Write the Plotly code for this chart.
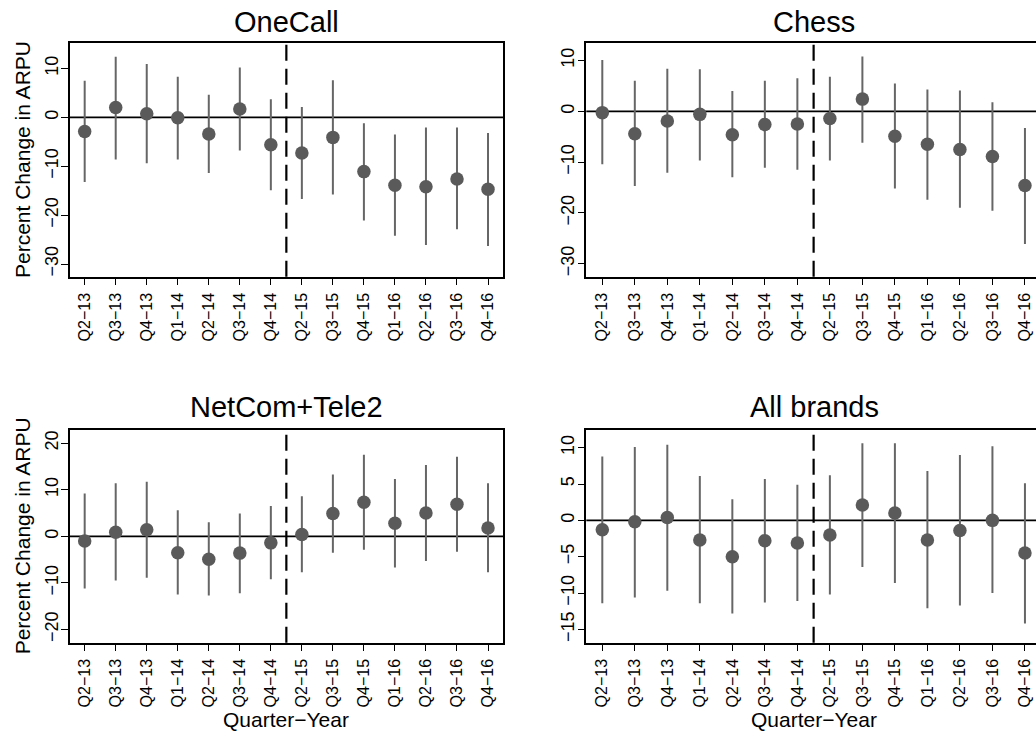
import plotly.graph_objects as go

W, H = 1036, 731

quarters = ["Q2\u221213", "Q3\u221213", "Q4\u221213", "Q1\u221214", "Q2\u221214", "Q3\u221214", "Q4\u221214",
            "Q2\u221215", "Q3\u221215", "Q4\u221215", "Q1\u221216", "Q2\u221216", "Q3\u221216", "Q4\u221216"]
positions = list(range(1, 15))

titles = ["OneCall", "Chess", "NetCom+Tele2", "All brands"]

onecall_est = [-2.9, 2.0, 0.75, -0.1, -3.4, 1.7, -5.6, -7.3, -4.1, -11.1, -13.9, -14.2, -12.6, -14.7]
onecall_lo = [-13.2, -8.6, -9.4, -8.6, -11.4, -6.8, -14.9, -16.7, -15.8, -21.1, -24.2, -26.1, -22.9, -26.3]
onecall_hi = [7.5, 12.4, 10.9, 8.3, 4.6, 10.2, 3.7, 2.1, 7.6, -1.2, -3.5, -2.1, -2.1, -3.2]

chess_est = [-0.26, -4.4, -1.9, -0.6, -4.6, -2.6, -2.5, -1.4, 2.4, -4.9, -6.5, -7.5, -8.9, -14.6]
chess_lo = [-10.4, -14.7, -12.1, -9.7, -13.0, -11.1, -11.5, -9.7, -6.2, -15.2, -17.4, -19.0, -19.6, -26.1]
chess_hi = [10.1, 6.0, 8.4, 8.3, 4.0, 6.0, 6.5, 6.8, 10.8, 5.5, 4.3, 4.1, 1.8, -3.3]

netcom_est = [-1.0, 0.9, 1.4, -3.5, -4.9, -3.6, -1.4, 0.4, 4.9, 7.3, 2.8, 5.0, 6.9, 1.8]
netcom_lo = [-11.2, -9.5, -8.9, -12.5, -12.7, -12.2, -9.2, -7.7, -3.5, -2.9, -6.7, -5.3, -3.3, -7.7]
netcom_hi = [9.2, 11.4, 11.7, 5.6, 3.0, 4.9, 6.5, 8.6, 13.3, 17.5, 12.3, 15.3, 17.1, 11.4]

all_est = [-1.3, -0.2, 0.4, -2.7, -5.0, -2.8, -3.1, -2.0, 2.1, 1.0, -2.7, -1.4, 0.0, -4.5]
all_lo = [-11.4, -10.6, -9.7, -11.4, -12.8, -11.3, -11.1, -10.2, -6.4, -8.6, -12.1, -11.7, -10.0, -14.2]
all_hi = [8.8, 10.1, 10.4, 6.1, 2.9, 5.7, 4.9, 6.2, 10.6, 10.6, 6.8, 9.0, 10.2, 5.1]

series = [(onecall_est, onecall_lo, onecall_hi), (chess_est, chess_lo, chess_hi),
          (netcom_est, netcom_lo, netcom_hi), (all_est, all_lo, all_hi)]

y_ranges = [[-32.59, 15.14], [-32.56, 13.39], [-22.83, 22.83], [-16.83, 12.39]]
y_ticks = [[-30, -20, -10, 0, 10], [-30, -20, -10, 0, 10], [-20, -10, 0, 10, 20], [-15, -10, -5, 0, 5, 10]]

# panel boxes in pixels: (left, right, top, bottom)
boxes = [(69.7, 503.0, 43.3, 276.7), (586.3, 1036.0, 43.3, 276.7),
         (69.7, 503.0, 430.0, 642.7), (586.3, 1036.0, 430.3, 642.7)]
x_ranges = [[0.517, 14.483], [0.508, 14.34], [0.517, 14.483], [0.508, 14.34]]

FONT = "Liberation Sans, Arial, Helvetica, sans-serif"
PT_COLOR = "#5a5a5a"
BAR_COLOR = "#666666"

fig = go.Figure()
annotations = []
shapes = []

for i, ((est, lo, hi), box) in enumerate(zip(series, boxes)):
    sfx = "" if i == 0 else str(i + 1)
    xa, ya = "x" + sfx, "y" + sfx
    fig.add_trace(go.Scatter(
        x=positions, y=est, mode="markers", xaxis=xa, yaxis=ya,
        marker=dict(size=13.5, color=PT_COLOR),
        error_y=dict(type="data", symmetric=False,
                     array=[h - e for h, e in zip(hi, est)],
                     arrayminus=[e - l for e, l in zip(est, lo)],
                     width=0, thickness=2, color=BAR_COLOR),
        showlegend=False, hoverinfo="skip"))

    l, r, t, b = box
    right_panel = (i % 2 == 1)
    xdom = [l / W, r / W]
    ydom = [1 - b / H, 1 - t / H]
    fig.layout["xaxis" + sfx] = dict(
        domain=xdom, range=x_ranges[i], anchor=ya,
        tickmode="array", tickvals=positions, ticktext=quarters,
        tickangle=-90, ticks="outside", ticklen=6, tickwidth=1.3, tickcolor="black",
        ticklabelstandoff=2,
        showline=True, linecolor="black", linewidth=1.6, mirror=True,
        showgrid=False, zeroline=False,
        tickfont=dict(family=FONT, size=16, color="black"))
    fig.layout["yaxis" + sfx] = dict(
        domain=ydom, range=y_ranges[i], anchor=xa,
        tickmode="array", tickvals=y_ticks[i],
        tickangle=-90, ticks="outside", ticklen=7, tickwidth=1.3, tickcolor="black",
        ticklabelstandoff=-4,
        showline=True, linecolor="black", linewidth=1.6, mirror=(not right_panel),
        showgrid=False, zeroline=False,
        tickfont=dict(family=FONT, size=18, color="black"))

    # zero reference line
    shapes.append(dict(type="line", xref=xa + " domain", yref=ya, x0=0, x1=1, y0=0, y1=0,
                       line=dict(color="black", width=1.8), layer="below"))
    # policy break dashed line
    shapes.append(dict(type="line", xref=xa, yref=ya + " domain", x0=7.5, x1=7.5, y0=0, y1=1,
                       line=dict(color="black", width=2.2, dash="16px,8px"), layer="above"))

    cx = ((l + r) / 2 if not right_panel else 814.0) / W
    title_y = 22 if i < 2 else 407
    annotations.append(dict(text=titles[i], x=cx, y=1 - title_y / H, xref="paper", yref="paper",
                            xanchor="center", yanchor="middle", showarrow=False,
                            font=dict(family=FONT, size=29, color="black")))
    if not right_panel:
        annotations.append(dict(text="Percent Change in ARPU", x=22 / W, y=1 - ((t + b) / 2) / H,
                                xref="paper", yref="paper", xanchor="center", yanchor="middle",
                                textangle=-90, showarrow=False,
                                font=dict(family=FONT, size=21, color="black")))
    if i >= 2:
        annotations.append(dict(text="Quarter\u2212Year", x=cx, y=1 - 719 / H,
                                xref="paper", yref="paper", xanchor="center", yanchor="middle",
                                showarrow=False, font=dict(family=FONT, size=21, color="black")))

fig.update_layout(
    width=W, height=H,
    margin=dict(l=0, r=0, t=0, b=0),
    paper_bgcolor="white", plot_bgcolor="white",
    annotations=annotations, shapes=shapes,
    font=dict(family=FONT, color="black"))

fig.write_html("out.html", config={"displayModeBar": False},
               post_script="document.body.style.margin='0';document.body.style.overflow='hidden';")
